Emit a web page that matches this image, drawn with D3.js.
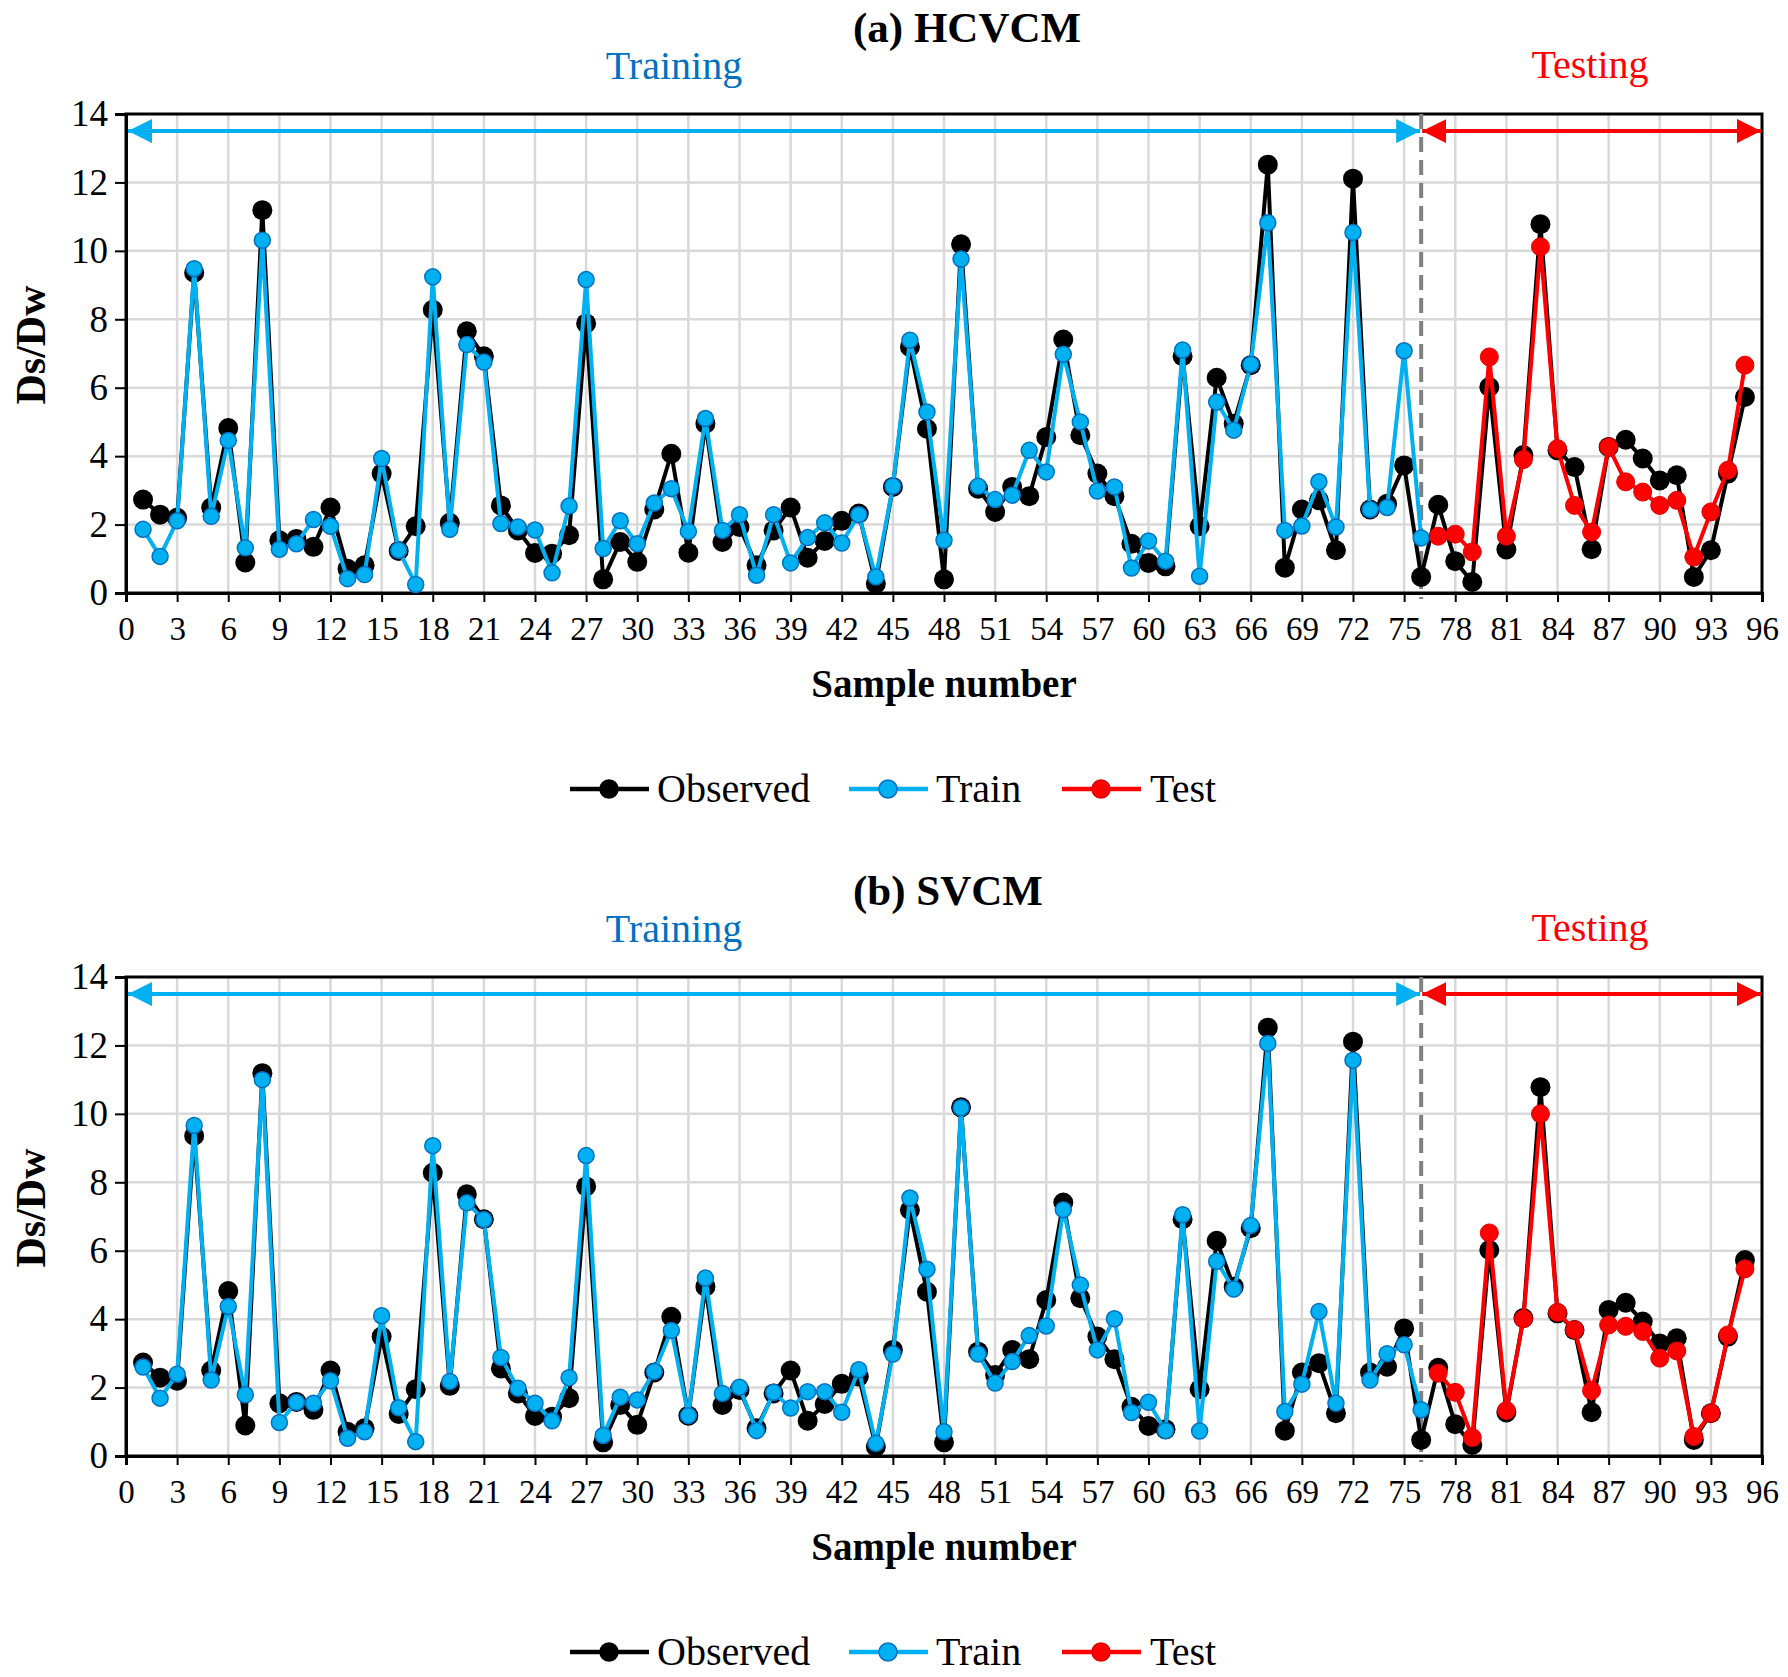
<!DOCTYPE html>
<html>
<head>
<meta charset="utf-8">
<script src="https://cdn.jsdelivr.net/npm/d3@7"></script>
<style>
  body { margin: 0; background: #fff; }
  text { font-family: "Liberation Serif", "Times New Roman", serif; }
</style>
</head>
<body>
<script>
// Sample numbers and tick labels
var samples = d3.range(1, 96);
var xTicks = [0, 3, 6, 9, 12, 15, 18, 21, 24, 27, 30, 33, 36, 39, 42, 45, 48, 51, 54, 57, 60, 63, 66, 69, 72, 75, 78, 81, 84, 87, 90, 93, 96];
var yTicks = [0, 2, 4, 6, 8, 10, 12, 14];

// Observed Ds/Dw (samples 1-95)
var observed = [2.73, 2.29, 2.20, 9.36, 2.50, 4.82, 0.89, 11.19, 1.54, 1.58,
  1.35, 2.50, 0.71, 0.81, 3.49, 1.23, 1.95, 8.28, 2.05, 7.65,
  6.92, 2.56, 1.83, 1.17, 1.15, 1.69, 7.88, 0.40, 1.49, 0.91,
  2.44, 4.07, 1.18, 4.95, 1.49, 1.93, 0.81, 1.83, 2.50, 1.03,
  1.52, 2.11, 2.32, 0.27, 3.10, 7.19, 4.80, 0.40, 10.19, 3.05,
  2.37, 3.10, 2.83, 4.56, 7.41, 4.61, 3.49, 2.83, 1.44, 0.88,
  0.78, 6.92, 1.95, 6.29, 4.95, 6.66, 12.52, 0.74, 2.44, 2.71,
  1.25, 12.11, 2.44, 2.61, 3.73, 0.47, 2.58, 0.93, 0.32, 6.02,
  1.27, 4.03, 10.78, 4.17, 3.68, 1.28, 4.27, 4.48, 3.93, 3.29,
  3.44, 0.47, 1.25, 3.49, 5.73];

// (a) HCVCM predictions: train = samples 1-76, test = samples 77-95
var trainHCVCM = [1.86, 1.07, 2.11, 9.48, 2.24, 4.46, 1.32, 10.31, 1.28, 1.44,
  2.15, 1.95, 0.42, 0.54, 3.93, 1.25, 0.25, 9.24, 1.86, 7.26,
  6.75, 2.03, 1.93, 1.84, 0.59, 2.54, 9.16, 1.30, 2.11, 1.44,
  2.63, 3.05, 1.80, 5.10, 1.83, 2.29, 0.52, 2.29, 0.88, 1.62,
  2.05, 1.46, 2.29, 0.47, 3.12, 7.39, 5.29, 1.54, 9.76, 3.12,
  2.73, 2.86, 4.17, 3.54, 6.98, 5.00, 2.98, 3.10, 0.73, 1.52,
  0.93, 7.10, 0.49, 5.58, 4.76, 6.68, 10.82, 1.83, 1.96, 3.25,
  1.93, 10.54, 2.44, 2.50, 7.08, 1.61];
var testHCVCM = [1.66, 1.72, 1.20, 6.90, 1.66, 3.90, 10.12, 4.22, 2.56, 1.78,
  4.27, 3.25, 2.95, 2.56, 2.71, 1.05, 2.37, 3.59, 6.66];

// (b) SVCM predictions
var trainSVCM = [2.60, 1.69, 2.39, 9.66, 2.22, 4.37, 1.79, 11.00, 0.98, 1.57,
  1.54, 2.20, 0.52, 0.71, 4.10, 1.41, 0.42, 9.07, 2.18, 7.40,
  6.91, 2.88, 1.98, 1.54, 1.03, 2.29, 8.78, 0.60, 1.72, 1.64,
  2.47, 3.67, 1.18, 5.20, 1.83, 2.01, 0.74, 1.86, 1.40, 1.88,
  1.88, 1.28, 2.52, 0.37, 2.98, 7.54, 5.46, 0.71, 10.18, 2.98,
  2.13, 2.76, 3.52, 3.80, 7.20, 5.00, 3.10, 4.01, 1.27, 1.57,
  0.74, 7.05, 0.73, 5.69, 4.88, 6.74, 12.06, 1.30, 2.10, 4.22,
  1.54, 11.57, 2.22, 2.99, 3.25, 1.35];
var testSVCM = [2.42, 1.86, 0.54, 6.52, 1.33, 4.01, 10.00, 4.20, 3.69, 1.91,
  3.83, 3.79, 3.64, 2.86, 3.07, 0.57, 1.25, 3.54, 5.47];

var splitAt = 76;

var svgWidth = 1788;
var svgHeight = 1677;

var svg = d3.select("body")
  .append("svg")
  .attr("width", svgWidth)
  .attr("height", svgHeight);

var defs = svg.append("defs");
function arrowMarker(id, color) {
  defs.append("marker")
    .attr("id", id)
    .attr("viewBox", "0 0 24 24")
    .attr("refX", 24).attr("refY", 12)
    .attr("markerWidth", 24).attr("markerHeight", 24)
    .attr("markerUnits", "userSpaceOnUse")
    .attr("orient", "auto-start-reverse")
    .append("path")
    .attr("d", "M0,0 L24,12 L0,24 Z")
    .attr("fill", color);
}
arrowMarker("arrBlue", "#00B0F0");
arrowMarker("arrRed", "#FF0000");

var serif = "'Liberation Serif', 'Times New Roman', serif";
var x = d3.scaleLinear().domain([0, 96]).range([126, 1762]);

function drawPanel(offsetY, title, train, test) {
  var g = svg.append("g").attr("transform", `translate(0, ${offsetY})`);
  var y = d3.scaleLinear().domain([0, 14]).range([593, 114]);

  // gridlines
  g.append("g").selectAll("line")
    .data(xTicks.filter(d => d > 0 && d < 96))
    .enter().append("line")
    .attr("x1", d => x(d)).attr("x2", d => x(d))
    .attr("y1", y(0)).attr("y2", y(14))
    .attr("stroke", "#D9D9D9").attr("stroke-width", 2.5);
  g.append("g").selectAll("line")
    .data(yTicks.filter(d => d > 0 && d < 14))
    .enter().append("line")
    .attr("x1", x(0)).attr("x2", x(96))
    .attr("y1", d => y(d)).attr("y2", d => y(d))
    .attr("stroke", "#D9D9D9").attr("stroke-width", 2.5);

  // frame
  g.append("rect")
    .attr("x", x(0)).attr("y", y(14))
    .attr("width", x(96) - x(0)).attr("height", y(0) - y(14))
    .attr("fill", "none").attr("stroke", "#000").attr("stroke-width", 3);

  // axes
  var bottomAxis = d3.axisBottom(x).tickValues(xTicks).tickSize(9).tickPadding(15).tickFormat(d3.format("d"));
  var leftAxis = d3.axisLeft(y).tickValues(yTicks).tickSize(11).tickPadding(7).tickFormat(d3.format("d"));

  var xa = g.append("g").attr("transform", `translate(0, ${y(0)})`).call(bottomAxis)
    .attr("font-family", serif).attr("font-size", 33);
  var ya = g.append("g").attr("transform", `translate(${x(0)}, 0)`).call(leftAxis)
    .attr("font-family", serif).attr("font-size", 37);
  [xa, ya].forEach(function(a) {
    a.select(".domain").attr("stroke", "#000").attr("stroke-width", 3);
    a.selectAll(".tick line").attr("stroke", "#000").attr("stroke-width", 2);
    a.selectAll("text").attr("fill", "#000");
  });

  // split dashed line
  g.append("line")
    .attr("x1", x(splitAt)).attr("x2", x(splitAt))
    .attr("y1", y(14)).attr("y2", y(0) + 6)
    .attr("stroke", "#808080").attr("stroke-width", 4)
    .attr("stroke-dasharray", "15,8");

  // training / testing arrows
  g.append("line")
    .attr("x1", x(0) + 2).attr("x2", x(splitAt) - 1)
    .attr("y1", y(13.5)).attr("y2", y(13.5))
    .attr("stroke", "#00B0F0").attr("stroke-width", 4)
    .attr("marker-start", "url(#arrBlue)").attr("marker-end", "url(#arrBlue)");
  g.append("line")
    .attr("x1", x(splitAt) + 1).attr("x2", x(96) - 1)
    .attr("y1", y(13.5)).attr("y2", y(13.5))
    .attr("stroke", "#FF0000").attr("stroke-width", 4)
    .attr("marker-start", "url(#arrRed)").attr("marker-end", "url(#arrRed)");

  // series
  var line = d3.line().x(d => x(d[0])).y(d => y(d[1]));
  var obsPts = samples.map((s, i) => [s, observed[i]]);
  var trainPts = train.map((v, i) => [samples[i], v]);
  var testPts = test.map((v, i) => [samples[splitAt + i], v]);

  g.append("path").datum(obsPts).attr("d", line)
    .attr("fill", "none").attr("stroke", "#000").attr("stroke-width", 4);
  g.append("g").selectAll("circle").data(obsPts).enter().append("circle")
    .attr("cx", d => x(d[0])).attr("cy", d => y(d[1])).attr("r", 10)
    .attr("fill", "#000");

  g.append("path").datum(trainPts).attr("d", line)
    .attr("fill", "none").attr("stroke", "#00B0F0").attr("stroke-width", 4);
  g.append("g").selectAll("circle").data(trainPts).enter().append("circle")
    .attr("cx", d => x(d[0])).attr("cy", d => y(d[1])).attr("r", 8)
    .attr("fill", "#00B0F0").attr("stroke", "#0070C0").attr("stroke-width", 1.5);

  g.append("path").datum(testPts).attr("d", line)
    .attr("fill", "none").attr("stroke", "#FF0000").attr("stroke-width", 4);
  g.append("g").selectAll("circle").data(testPts).enter().append("circle")
    .attr("cx", d => x(d[0])).attr("cy", d => y(d[1])).attr("r", 9)
    .attr("fill", "#FF0000").attr("stroke", "#E00000").attr("stroke-width", 1);

  // titles and labels
  g.append("text").attr("x", 853).attr("y", 42)
    .style("font-size", "43px").style("font-weight", "bold")
    .text(title);
  g.append("text").attr("x", 674).attr("y", 79)
    .attr("text-anchor", "middle").style("font-size", "40px").attr("fill", "#0070C0")
    .text("Training");
  g.append("text").attr("x", 1590).attr("y", 78)
    .attr("text-anchor", "middle").style("font-size", "40px").attr("fill", "#FF0000")
    .text("Testing");
  g.append("text").attr("x", 944).attr("y", 697)
    .attr("text-anchor", "middle").style("font-size", "39px").style("font-weight", "bold")
    .text("Sample number");
  g.append("text")
    .attr("transform", "translate(45, 345) rotate(-90)")
    .attr("text-anchor", "middle").style("font-size", "42px").style("font-weight", "bold")
    .text("Ds/Dw");

  // legend
  var legend = [
    { name: "Observed", color: "#000", fill: "#000", stroke: "#000", x0: 570, tx: 657 },
    { name: "Train", color: "#00B0F0", fill: "#00B0F0", stroke: "#0070C0", x0: 849, tx: 936 },
    { name: "Test", color: "#FF0000", fill: "#FF0000", stroke: "#E00000", x0: 1062, tx: 1150 }
  ];
  var lg = g.append("g");
  legend.forEach(function(d) {
    lg.append("line").attr("x1", d.x0).attr("x2", d.x0 + 79)
      .attr("y1", 789).attr("y2", 789)
      .attr("stroke", d.color).attr("stroke-width", 4.5);
    lg.append("circle").attr("cx", d.x0 + 39).attr("cy", 789).attr("r", 9)
      .attr("fill", d.fill).attr("stroke", d.stroke).attr("stroke-width", 1.5);
    lg.append("text").attr("x", d.tx).attr("y", 802)
      .style("font-size", "40px").text(d.name);
  });
}

drawPanel(0, "(a) HCVCM", trainHCVCM, testHCVCM);
drawPanel(863, "(b) SVCM", trainSVCM, testSVCM);
</script>
</body>
</html>
